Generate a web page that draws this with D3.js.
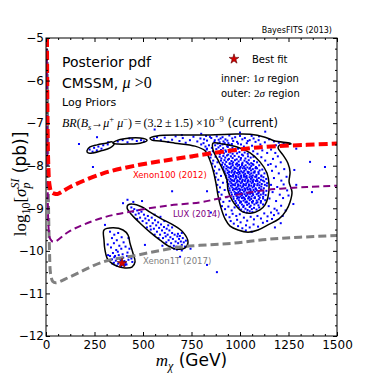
<!DOCTYPE html>
<html><head><meta charset="utf-8">
<script src="https://cdn.jsdelivr.net/npm/d3@7"></script>
<style>body{margin:0;background:#fff}svg{display:block}</style>
</head><body>
<svg id="c" width="374" height="374"></svg>
<script>
// ---------- data ----------
const xDomain = [0, 1500];
const yDomain = [-12, -5];
const xTicks = [0, 250, 500, 750, 1000, 1250, 1500];
const yTicks = [-12, -11, -10, -9, -8, -7, -6, -5];

// direct-detection limits (m_chi GeV, log10 sigma)
const xenon100 = [[5,-5],[8,-7],[12,-8],[18,-8.45],[28,-8.62],[45,-8.66],[62,-8.66],[124,-8.50],[294,-8.18],[469,-7.99],[639,-7.86],[794,-7.75],[861,-7.70],[1119,-7.56],[1345,-7.51],[1500,-7.48]];
const lux = [[4,-5],[8,-8],[14,-9.5],[22,-9.72],[40,-9.79],[124,-9.53],[294,-9.22],[469,-9.05],[639,-8.93],[794,-8.86],[912,-8.75],[1119,-8.58],[1345,-8.50],[1500,-8.47]];
const xenon1t = [[6,-5],[10,-8],[18,-10],[24,-10.55],[35,-10.72],[50,-10.75],[124,-10.61],[294,-10.26],[469,-10.10],[691,-9.91],[794,-9.87],[964,-9.82],[1139,-9.73],[1309,-9.68],[1500,-9.64]];

// credible-region contours
const outer2sigma = [[536,-7.35],[572,-7.30],[691,-7.28],[794,-7.28],[949,-7.26],[1052,-7.26],[1129,-7.33],[1180,-7.42],[1258,-7.47],[1263,-7.49],[1206,-7.51],[1196,-7.58],[1222,-7.75],[1247,-7.94],[1258,-8.15],[1253,-8.38],[1268,-8.62],[1258,-8.85],[1237,-9.06],[1201,-9.25],[1144,-9.39],[1093,-9.51],[1041,-9.56],[990,-9.51],[949,-9.42],[923,-9.25],[902,-8.99],[887,-8.71],[876,-8.41],[861,-8.10],[845,-7.87],[820,-7.65],[768,-7.54],[665,-7.47],[588,-7.42],[546,-7.40]];
const inner1sigma = [[861,-7.47],[912,-7.49],[985,-7.56],[1052,-7.70],[1103,-7.91],[1139,-8.17],[1150,-8.45],[1144,-8.74],[1129,-8.92],[1103,-9.04],[1062,-9.11],[1016,-9.09],[985,-8.97],[959,-8.81],[938,-8.57],[933,-8.34],[912,-8.10],[887,-7.87],[861,-7.63]];
const islandA = [[211,-7.65],[227,-7.56],[263,-7.51],[309,-7.47],[340,-7.44],[351,-7.49],[330,-7.58],[284,-7.65],[242,-7.70],[217,-7.70]];
const islandB = [[345,-7.47],[371,-7.40],[433,-7.35],[485,-7.35],[521,-7.40],[485,-7.47],[423,-7.49],[371,-7.49]];
const islandC = [[423,-8.92],[443,-8.90],[495,-8.97],[536,-9.09],[588,-9.23],[655,-9.39],[706,-9.56],[732,-9.79],[717,-9.93],[675,-9.96],[639,-9.91],[588,-9.75],[536,-9.56],[485,-9.35],[443,-9.16],[418,-8.99]];
const islandD = [[299,-9.51],[345,-9.46],[397,-9.51],[423,-9.63],[433,-9.82],[448,-10.05],[459,-10.26],[443,-10.38],[407,-10.40],[366,-10.36],[320,-10.21],[304,-9.98],[299,-9.75]];

const bestFit = [392, -10.29];

// posterior samples
const coreSamples = [
[872,-7.52],[885,-7.48],[898,-7.53],[910,-7.50],[921,-7.47],[934,-7.54],[946,-7.51],[958,-7.49],
[878,-7.61],[889,-7.57],[902,-7.63],[913,-7.59],[925,-7.64],[937,-7.56],[949,-7.62],[961,-7.58],[974,-7.63],[990,-7.60],
[887,-7.68],[896,-7.73],[906,-7.66],[917,-7.71],[928,-7.67],[939,-7.74],[950,-7.69],[962,-7.72],[973,-7.66],[985,-7.71],[997,-7.68],[1010,-7.74],[1024,-7.69],[1040,-7.72],
[895,-7.79],[904,-7.83],[914,-7.77],[924,-7.81],[933,-7.76],[943,-7.84],[953,-7.78],[962,-7.82],[972,-7.77],[983,-7.85],[994,-7.79],[1005,-7.82],[1016,-7.76],[1028,-7.83],[1041,-7.78],[1055,-7.81],[1070,-7.79],
[902,-7.88],[911,-7.93],[920,-7.87],[929,-7.91],[938,-7.86],[947,-7.94],[956,-7.89],[965,-7.92],[974,-7.87],[984,-7.95],[993,-7.90],[1003,-7.86],[1013,-7.93],[1023,-7.88],[1034,-7.91],[1045,-7.87],[1058,-7.94],[1072,-7.89],[1088,-7.92],
[907,-7.98],[915,-8.03],[923,-7.97],[931,-8.01],[939,-8.04],[947,-7.96],[955,-8.02],[963,-7.99],[971,-8.04],[979,-7.97],[987,-8.01],[995,-7.98],[1003,-8.03],[1011,-7.96],[1020,-8.02],[1029,-7.99],[1038,-8.04],[1048,-7.97],[1058,-8.01],[1069,-7.98],[1082,-8.03],[1099,-7.99],
[914,-8.08],[921,-8.13],[929,-8.07],[936,-8.11],[944,-8.14],[951,-8.06],[959,-8.12],[966,-8.09],[974,-8.14],[982,-8.07],[990,-8.11],[998,-8.08],[1006,-8.13],[1014,-8.06],[1022,-8.12],[1030,-8.09],[1039,-8.14],[1048,-8.07],[1057,-8.11],[1066,-8.08],[1076,-8.13],[1088,-8.06],[1101,-8.11],[1115,-8.09],
[922,-8.18],[929,-8.23],[936,-8.17],[943,-8.21],[950,-8.24],[957,-8.16],[964,-8.22],[971,-8.19],[978,-8.24],[985,-8.17],[992,-8.21],[999,-8.18],[1006,-8.23],[1013,-8.16],[1020,-8.22],[1027,-8.19],[1034,-8.24],[1042,-8.17],[1050,-8.21],[1058,-8.18],[1066,-8.23],[1075,-8.16],[1085,-8.22],[1096,-8.19],[1110,-8.23],[1126,-8.18],
[930,-8.28],[937,-8.33],[944,-8.27],[951,-8.31],[958,-8.34],[965,-8.26],[972,-8.32],[979,-8.29],[986,-8.34],[993,-8.27],[1000,-8.31],[1007,-8.28],[1014,-8.33],[1021,-8.26],[1028,-8.32],[1035,-8.29],[1042,-8.34],[1049,-8.27],[1056,-8.31],[1063,-8.28],[1070,-8.33],[1078,-8.26],[1087,-8.32],[1097,-8.29],[1108,-8.33],[1121,-8.27],[1135,-8.31],
[934,-8.38],[941,-8.43],[948,-8.37],[955,-8.41],[962,-8.44],[969,-8.36],[976,-8.42],[983,-8.39],[990,-8.44],[997,-8.37],[1004,-8.41],[1011,-8.38],[1018,-8.43],[1025,-8.36],[1032,-8.42],[1039,-8.39],[1046,-8.44],[1053,-8.37],[1060,-8.41],[1067,-8.38],[1074,-8.43],[1082,-8.36],[1091,-8.42],[1101,-8.39],[1112,-8.43],[1125,-8.37],[1140,-8.41],
[939,-8.48],[946,-8.53],[953,-8.47],[960,-8.51],[967,-8.54],[974,-8.46],[981,-8.52],[988,-8.49],[995,-8.54],[1002,-8.47],[1009,-8.51],[1016,-8.48],[1023,-8.53],[1030,-8.46],[1037,-8.52],[1044,-8.49],[1051,-8.54],[1058,-8.47],[1065,-8.51],[1072,-8.48],[1080,-8.53],[1089,-8.46],[1099,-8.52],[1110,-8.49],[1123,-8.53],[1138,-8.47],
[947,-8.58],[955,-8.63],[963,-8.57],[971,-8.61],[978,-8.64],[985,-8.56],[992,-8.62],[999,-8.59],[1006,-8.64],[1013,-8.57],[1020,-8.61],[1027,-8.58],[1034,-8.63],[1041,-8.56],[1048,-8.62],[1055,-8.59],[1062,-8.64],[1070,-8.57],[1078,-8.61],[1087,-8.58],[1097,-8.63],[1108,-8.56],[1121,-8.62],[1136,-8.59],
[958,-8.68],[966,-8.73],[974,-8.67],[982,-8.71],[989,-8.74],[996,-8.66],[1003,-8.72],[1010,-8.69],[1017,-8.74],[1024,-8.67],[1031,-8.71],[1038,-8.68],[1045,-8.73],[1052,-8.66],[1060,-8.72],[1068,-8.69],[1077,-8.74],[1086,-8.67],[1096,-8.71],[1107,-8.68],[1119,-8.73],[1132,-8.69],
[967,-8.78],[976,-8.83],[985,-8.77],[994,-8.81],[1002,-8.84],[1010,-8.76],[1018,-8.82],[1026,-8.79],[1034,-8.84],[1042,-8.77],[1050,-8.81],[1058,-8.78],[1067,-8.83],[1076,-8.76],[1086,-8.82],[1097,-8.79],[1108,-8.83],[1119,-8.77],[1130,-8.81],
[980,-8.88],[990,-8.93],[1000,-8.87],[1010,-8.91],[1019,-8.94],[1028,-8.86],[1037,-8.92],[1046,-8.89],[1055,-8.94],[1064,-8.87],[1074,-8.91],[1084,-8.88],[1095,-8.93],[1107,-8.87],[1119,-8.91],
[995,-8.98],[1006,-9.03],[1017,-8.97],[1028,-9.01],[1039,-9.04],[1050,-8.97],[1061,-9.02],[1072,-8.99],[1085,-9.03],[1099,-8.98],
[1020,-9.08],[1035,-9.10],[1050,-9.07],[1064,-9.09]
];
const coreExtra = [
[960,-7.95],[985,-7.95],[1010,-7.99],[1040,-7.94],[1065,-7.96],
[950,-8.05],[975,-8.06],[1000,-8.05],[1025,-8.06],[1052,-8.05],[1080,-8.06],
[945,-8.15],[970,-8.16],[995,-8.15],[1018,-8.16],[1045,-8.15],[1070,-8.16],[1095,-8.15],
[955,-8.25],[982,-8.26],[1005,-8.25],[1031,-8.26],[1058,-8.25],[1084,-8.26],[1110,-8.25],
[960,-8.35],[988,-8.36],[1012,-8.35],[1040,-8.36],[1064,-8.35],[1090,-8.36],[1118,-8.35],
[965,-8.45],[992,-8.46],[1020,-8.45],[1047,-8.46],[1074,-8.45],[1100,-8.46],[1128,-8.45],
[975,-8.55],[1002,-8.56],[1028,-8.55],[1054,-8.56],[1082,-8.55],[1110,-8.56],
[985,-8.65],[1012,-8.66],[1040,-8.65],[1066,-8.66],[1093,-8.65],[1120,-8.66],
[995,-8.75],[1022,-8.76],[1049,-8.75],[1075,-8.76],[1102,-8.75],
[1005,-8.85],[1035,-8.86],[1062,-8.85],[1090,-8.86]
];
const haloSamples = [
[828,-7.62],[842,-7.68],[851,-7.74],[860,-7.66],[848,-7.81],[862,-7.88],[874,-7.79],[858,-7.95],[871,-8.02],[884,-7.92],[866,-8.12],[879,-8.18],[893,-8.09],[874,-8.27],[888,-8.33],[902,-8.24],[883,-8.45],[897,-8.51],[912,-8.40],[890,-8.62],[905,-8.68],[921,-8.57],[898,-8.79],[914,-8.85],[931,-8.74],[946,-8.83],[907,-8.95],[923,-9.02],[940,-8.96],[957,-9.05],[972,-8.98],[928,-9.15],[946,-9.21],[962,-9.13],[981,-9.18],[999,-9.14],
[952,-9.30],[968,-9.36],[985,-9.27],[1003,-9.33],[1020,-9.22],[1037,-9.29],[1055,-9.20],[1072,-9.26],[1090,-9.18],[1108,-9.24],[1125,-9.12],[1142,-9.19],[1160,-9.10],[1175,-9.16],[1190,-9.05],[990,-9.42],[1012,-9.47],[1031,-9.40],[1050,-9.45],[1070,-9.38],[1093,-9.43],[1118,-9.34],[1140,-9.30],[1165,-9.25],[1030,-9.52],[1060,-9.55],
[1160,-7.62],[1182,-7.70],[1170,-7.84],[1195,-7.78],[1158,-7.96],[1185,-8.02],[1210,-7.92],[1165,-8.12],[1200,-8.18],[1228,-8.08],[1175,-8.29],[1213,-8.35],[1240,-8.26],[1160,-8.45],[1192,-8.50],[1225,-8.44],[1168,-8.62],[1205,-8.68],[1243,-8.58],[1152,-8.77],[1186,-8.83],[1222,-8.76],[1250,-8.70],[1148,-8.95],[1178,-9.01],[1212,-8.94],[1235,-9.05],[1198,-9.12],[1220,-9.18],
[1020,-7.55],[1045,-7.60],[1068,-7.66],[1090,-7.72],[1110,-7.80],[1130,-7.88],[1145,-7.98],[1005,-7.50],[1035,-7.47],[1062,-7.53],[1088,-7.58],[1115,-7.64],[1140,-7.70],[1165,-7.55],[1185,-7.52]
];
const tailSamples = [
[1128,-7.45],[1096,-7.40],[1070,-7.36],[1040,-7.42],[1012,-7.38],[985,-7.44],[960,-7.36],[935,-7.41],[910,-7.33],[890,-7.39],[868,-7.44],[852,-7.35],[830,-7.41],[812,-7.47],[796,-7.36],[780,-7.43],[760,-7.32],[742,-7.40],[720,-7.46],[705,-7.35],[688,-7.42],[668,-7.31],[650,-7.39],[630,-7.44],[612,-7.34],[592,-7.40],[572,-7.33],[556,-7.37],[1200,-7.46],[1225,-7.48],[1150,-7.38],[1175,-7.43],[1098,-7.31],[1060,-7.30],[1000,-7.30],[945,-7.29],[880,-7.31],[825,-7.30],
[800,-7.50],[822,-7.55],[840,-7.52],[855,-7.58],[870,-7.40],[895,-7.45],[915,-7.43],[940,-7.47],[965,-7.42],[990,-7.48],[830,-7.60],[815,-7.38],[845,-7.32],[900,-7.36],[925,-7.38],[975,-7.33],[1025,-7.35],[1050,-7.40],[1080,-7.44],[1105,-7.50]
];
const bandSamples = [
[440,-8.98],[448,-9.08],[455,-9.02],[462,-9.15],[470,-9.05],[478,-9.12],[485,-9.22],[492,-9.08],[498,-9.30],[505,-9.15],[512,-9.24],[518,-9.35],[525,-9.18],[530,-9.28],[538,-9.42],[545,-9.22],[550,-9.35],[556,-9.48],[562,-9.28],[568,-9.40],[572,-9.55],[578,-9.33],[583,-9.46],[588,-9.62],[593,-9.38],[598,-9.52],[603,-9.70],[608,-9.44],[612,-9.58],[617,-9.66],[622,-9.48],[627,-9.62],[632,-9.75],[636,-9.52],[641,-9.68],[645,-9.82],[650,-9.58],[654,-9.72],[659,-9.88],[663,-9.62],[668,-9.78],[672,-9.90],[677,-9.66],[681,-9.82],[686,-9.72],[690,-9.92],[695,-9.78],[700,-9.86],[705,-9.70],[710,-9.80],[716,-9.90],[721,-9.76],[600,-9.88],[620,-9.80],[660,-9.95],[580,-9.70],[560,-9.62],[540,-9.50],[520,-9.45],[470,-9.25],[630,-9.40],[610,-9.30],[680,-9.60],[700,-9.58],[590,-9.20],[560,-9.15],[650,-9.45],[730,-9.88],[745,-9.95],[700,-9.99],[640,-9.90],[675,-9.97],[690,-9.65]
];
const lowSamples = [
[330,-9.55],[352,-9.62],[372,-9.58],[340,-9.70],[365,-9.75],[390,-9.68],[350,-9.82],[378,-9.88],[400,-9.80],[335,-9.92],[362,-9.98],[388,-9.95],[410,-9.90],[345,-10.05],[370,-10.02],[395,-10.08],[420,-10.04],[330,-10.12],[352,-10.15],[375,-10.10],[398,-10.16],[418,-10.12],[440,-10.18],[340,-10.20],[360,-10.23],[382,-10.19],[404,-10.24],[425,-10.21],[445,-10.26],[350,-10.28],[372,-10.30],[395,-10.27],[415,-10.32],[365,-10.35],[388,-10.36],[408,-10.33],[320,-10.10],[318,-9.85],[425,-9.70],[430,-9.95],[356,-10.12],[385,-10.22],[410,-10.28],[342,-10.30]
];
const islandSamples = [
[225,-7.62],[248,-7.58],[270,-7.55],[295,-7.52],[318,-7.50],[262,-7.64],[286,-7.60],[240,-7.67],
[370,-7.43],[395,-7.40],[420,-7.45],[445,-7.38],[468,-7.42],[490,-7.40],[430,-7.36],[505,-7.43]
];
const straySamples = [
[1280,-8.10],[1275,-8.90],[1290,-8.45],[1210,-9.35],[1180,-9.45],[850,-9.10],[830,-8.60],[1130,-7.20],[1000,-7.22],[800,-7.25],[700,-7.28],[1290,-7.60],
[1361,-7.91],[1438,-8.03],[1371,-8.62],[881,-10.50],[830,-10.33],[691,-10.14],[510,-9.86],[397,-8.88],[495,-8.83],[304,-9.39],[170,-7.49],[263,-7.33],[753,-7.80],[242,-8.03],[420,-8.80],[450,-8.85],[650,-8.60],[560,-7.15],[320,-7.45]
];

// ---------- drawing ----------
const M = {l: 46, r: 337, t: 38, b: 336};
const svg = d3.select('#c');
const x = d3.scaleLinear().domain(xDomain).range([M.l, M.r]);
const y = d3.scaleLinear().domain(yDomain).range([M.b, M.t]);
const SANS = 'DejaVu Sans, Bitstream Vera Sans, sans-serif';
const SERIF = 'Liberation Serif, DejaVu Serif, serif';

svg.append('defs').append('clipPath').attr('id','clip')
  .append('rect').attr('x',M.l).attr('y',M.t).attr('width',M.r-M.l).attr('height',M.b-M.t);
const plot = svg.append('g').attr('clip-path','url(#clip)');

// samples
const allSamples = [].concat(coreSamples, coreExtra, haloSamples, tailSamples, bandSamples, lowSamples, islandSamples, straySamples);
plot.append('g').selectAll('rect').data(allSamples).join('rect')
  .attr('x', d => x(d[0]) - 1).attr('y', d => y(d[1]) - 1)
  .attr('width', 2).attr('height', 2).attr('fill', '#0000ff');

// contours
const closed = d3.line().x(d => x(d[0])).y(d => y(d[1])).curve(d3.curveCatmullRomClosed.alpha(0.5));
[outer2sigma, inner1sigma, islandA, islandB, islandC, islandD].forEach(c => {
  plot.append('path').attr('d', closed(c)).attr('fill','none').attr('stroke','#000').attr('stroke-width',1.5);
});

// limit curves
const smooth = d3.line().x(d => x(d[0])).y(d => y(d[1])).curve(d3.curveCatmullRom.alpha(0.5));
plot.append('path').attr('d', smooth(xenon1t)).attr('fill','none').attr('stroke','#808080').attr('stroke-width',3).attr('stroke-dasharray','8,4');
plot.append('path').attr('d', smooth(lux)).attr('fill','none').attr('stroke','#800080').attr('stroke-width',2).attr('stroke-dasharray','7,4');
plot.append('path').attr('d', smooth(xenon100)).attr('fill','none').attr('stroke','#ff0000').attr('stroke-width',4).attr('stroke-dasharray','9,4');

// best fit
const star = d3.symbol().type(d3.symbolStar).size(30);
plot.append('path').attr('d', star()).attr('transform', `translate(${x(bestFit[0])},${y(bestFit[1])})`)
  .attr('fill','#d40000').attr('stroke','#5a0000').attr('stroke-width',0.6);

// curve labels
const lab = (t, px, py, col) => svg.append('text').attr('x', x(px)).attr('y', y(py)).text(t)
  .attr('font-family', SANS).attr('font-size', 8.5).attr('fill', col);
lab('Xenon100 (2012)', 448, -8.29, '#ff0000');
lab('LUX (2014)', 655, -9.20, '#800080');
lab('Xenon1T (2017)', 500, -10.31, '#808080');

// frame
svg.append('rect').attr('x',M.l).attr('y',M.t).attr('width',M.r-M.l).attr('height',M.b-M.t)
  .attr('fill','none').attr('stroke','#000').attr('stroke-width',1);

// axes
const xMinor = d3.range(0, 1500.1, 62.5).filter(v => v % 250 !== 0);
const yMinor = d3.range(-12, -4.99, 0.25).filter(v => Math.abs(v - Math.round(v)) > 1e-6);
function styleAxis(g){
  g.select('.domain').remove();
  g.selectAll('line').attr('stroke','#000').attr('stroke-width',1);
  g.selectAll('text').attr('font-family', SANS).attr('font-size', 12).attr('fill','#000');
}
svg.append('g').attr('transform',`translate(0,${M.b})`)
  .call(d3.axisBottom(x).tickValues(xTicks).tickSize(-4).tickPadding(4).tickFormat(d3.format('d'))).call(styleAxis);
svg.append('g').attr('transform',`translate(0,${M.b})`)
  .call(d3.axisBottom(x).tickValues(xMinor).tickSize(-2).tickFormat('')).call(styleAxis);
svg.append('g').attr('transform',`translate(0,${M.t})`)
  .call(d3.axisTop(x).tickValues(xTicks).tickSize(-4).tickFormat('')).call(styleAxis);
svg.append('g').attr('transform',`translate(0,${M.t})`)
  .call(d3.axisTop(x).tickValues(xMinor).tickSize(-2).tickFormat('')).call(styleAxis);
svg.append('g').attr('transform',`translate(${M.l},0)`)
  .call(d3.axisLeft(y).tickValues(yTicks).tickSize(-4).tickPadding(2).tickFormat(d3.format('d'))).call(styleAxis);
svg.append('g').attr('transform',`translate(${M.l},0)`)
  .call(d3.axisLeft(y).tickValues(yMinor).tickSize(-2).tickFormat('')).call(styleAxis);
svg.append('g').attr('transform',`translate(${M.r},0)`)
  .call(d3.axisRight(y).tickValues(yTicks).tickSize(-4).tickFormat('')).call(styleAxis);
svg.append('g').attr('transform',`translate(${M.r},0)`)
  .call(d3.axisRight(y).tickValues(yMinor).tickSize(-2).tickFormat('')).call(styleAxis);

// axis titles
const xl = svg.append('text').attr('x', (M.l+M.r)/2).attr('y', 366).attr('text-anchor','middle').attr('font-size',17).attr('fill','#000');
xl.append('tspan').attr('font-family',SERIF).attr('font-style','italic').text('m');
xl.append('tspan').attr('font-family',SERIF).attr('font-style','italic').attr('font-size',12).attr('dy',4).text('χ');
xl.append('tspan').attr('font-family',SANS).attr('dy',-4).text(' (GeV)');

const yl = svg.append('text').attr('transform',`translate(26,184) rotate(-90)`).attr('text-anchor','middle').attr('font-size',17).attr('fill','#000');
yl.append('tspan').attr('font-family',SERIF).text('log');
yl.append('tspan').attr('font-family',SERIF).attr('font-size',12).attr('dy',4).text('10');
yl.append('tspan').attr('font-family',SERIF).attr('dy',-4).text('[');
yl.append('tspan').attr('font-family',SERIF).attr('font-style','italic').text('σ');
yl.append('tspan').attr('font-family',SERIF).attr('font-style','italic').attr('font-size',12).attr('dy',4).text('p');
yl.append('tspan').attr('font-family',SERIF).attr('font-style','italic').attr('font-size',12).attr('dx',-6).attr('dy',-11).text('SI');
yl.append('tspan').attr('font-family',SANS).attr('dy',7).text(' (pb)]');

// header
svg.append('text').attr('x', 332).attr('y', 33).attr('text-anchor','end').attr('font-family',SANS).attr('font-size',8).attr('fill','#000').text('BayesFITS (2013)');

svg.append('text').attr('x',62).attr('y',67).attr('font-family',SANS).attr('font-size',14).attr('fill','#000').text('Posterior pdf');
const cm = svg.append('text').attr('x',62).attr('y',88).attr('font-size',14).attr('fill','#000');
cm.append('tspan').attr('font-family',SANS).text('CMSSM, ');
cm.append('tspan').attr('font-family',SERIF).attr('font-style','italic').attr('font-size',16).text('μ');
cm.append('tspan').attr('font-family',SERIF).attr('font-size',16).text(' >0');
svg.append('text').attr('x',62).attr('y',106).attr('font-family',SANS).attr('font-size',11).attr('fill','#000').text('Log Priors');

const br = svg.append('text').attr('x',62).attr('y',127).attr('font-size',12).attr('fill','#000').attr('font-family',SERIF);
br.append('tspan').attr('font-style','italic').text('BR');
br.append('tspan').text('(');
br.append('tspan').attr('font-style','italic').text('B');
br.append('tspan').attr('font-style','italic').attr('font-size',8.5).attr('dy',2.5).text('s');
br.append('tspan').attr('dy',-2.5).text('→');
br.append('tspan').attr('font-style','italic').text('μ');
br.append('tspan').attr('font-size',8.5).attr('dy',-5).text('+');
br.append('tspan').attr('font-style','italic').attr('dy',5).text(' μ');
br.append('tspan').attr('font-size',8.5).attr('dy',-5).text('−');
br.append('tspan').attr('dy',5).text(')\u2009=\u2009(3.2\u2009±\u20091.5) ×10');
br.append('tspan').attr('font-size',8.5).attr('dy',-5).text('−9');
br.append('tspan').attr('font-family',SANS).attr('font-size',11.5).attr('dy',5).text('  (current)');

// legend
svg.append('path').attr('d', star()).attr('transform','translate(234,59)')
  .attr('fill','#d40000').attr('stroke','#5a0000').attr('stroke-width',0.6);
svg.append('text').attr('x',252).attr('y',63).attr('font-family',SANS).attr('font-size',10).attr('fill','#000').text('Best fit');
function sig(yy, word, n){
  const t = svg.append('text').attr('x',221).attr('y',yy).attr('font-size',10).attr('fill','#000');
  t.append('tspan').attr('font-family',SANS).text(word + ': ');
  t.append('tspan').attr('font-family',SERIF).attr('font-size',11).text(n);
  t.append('tspan').attr('font-family',SERIF).attr('font-style','italic').attr('font-size',11).text('σ');
  t.append('tspan').attr('font-family',SANS).text(' region');
}
sig(82, 'inner', '1');
sig(97, 'outer', '2');
</script>
</body></html>
